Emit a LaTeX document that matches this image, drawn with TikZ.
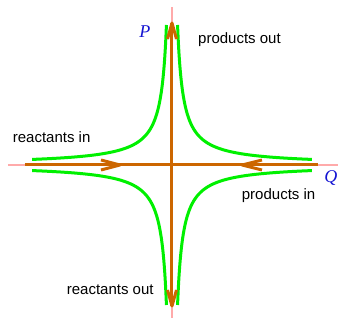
\documentclass[tikz,border=0pt]{standalone}
\usepackage{fontspec}
\setmainfont{Liberation Sans}
\newfontfamily\varfont{Liberation Serif}
\definecolor{axispink}{RGB}{255,170,170}
\definecolor{flow}{RGB}{204,102,0}
\definecolor{hyp}{RGB}{0,240,0}
\definecolor{varblue}{RGB}{20,20,210}
\begin{document}
\begin{tikzpicture}[x=1pt,y=1pt,
  axis/.style={draw=axispink, line width=2pt},
  flowline/.style={draw=flow, line width=3pt},
  barb/.style={draw=flow, line width=3pt, line join=round},
  hyper/.style={draw=hyp, line width=3pt},
  lab/.style={font=\fontsize{15}{15}\selectfont, inner sep=0pt, anchor=base west},
  var/.style={font=\fontsize{18}{18}\selectfont\varfont\itshape, text=varblue, inner sep=0pt, anchor=base}]
\useasboundingbox (-172,-159) rectangle (169,165);
% axes
\coordinate (W) at (-164,0);
\coordinate (E) at (166,0);
\coordinate (N) at (0,158);
\coordinate (S) at (0,-153);
\draw[axis] (W) -- (E);
\draw[axis] (S) -- (N);
% flow lines
\coordinate (fW) at (-147,0);
\coordinate (fE) at (146,0);
\coordinate (fN) at (0,142);
\coordinate (fS) at (0,-141);
\draw[flowline] (fW) -- (fE);
\draw[flowline] (fS) -- (fN);
% hyperbolas
\foreach \sx/\sy in {1/1,-1/1,1/-1,-1/-1}
  \draw[hyper] plot[domain=-1.612:1.612, samples=80, smooth] ({\sx*27.93*exp(\x)}, {\sy*27.93*exp(-\x)});
% arrowheads
\draw[barb] (-4.5,126) -- (fN) -- (4.5,126);
\draw[barb] (-4.5,-125) -- (fS) -- (4.5,-125);
\coordinate (aL) at (-52,0);
\coordinate (aR) at (70,0);
\draw[barb] (-71,5) -- (aL) -- (-71,-5);
\draw[barb] (90,5) -- (aR) -- (90,-5);
% labels
\node[lab] (po) at (26,121) {products out};
\node[lab] (ri) at (-159.3,22.7) {reactants in};
\node[lab] (pi) at (69.7,-35) {products in};
\node[lab] (ro) at (-105.3,-130) {reactants out};
\node[var] (P) at (-27,127) {P};
\node[var] (Q) at (159,-18) {Q};
\end{tikzpicture}
\end{document}
